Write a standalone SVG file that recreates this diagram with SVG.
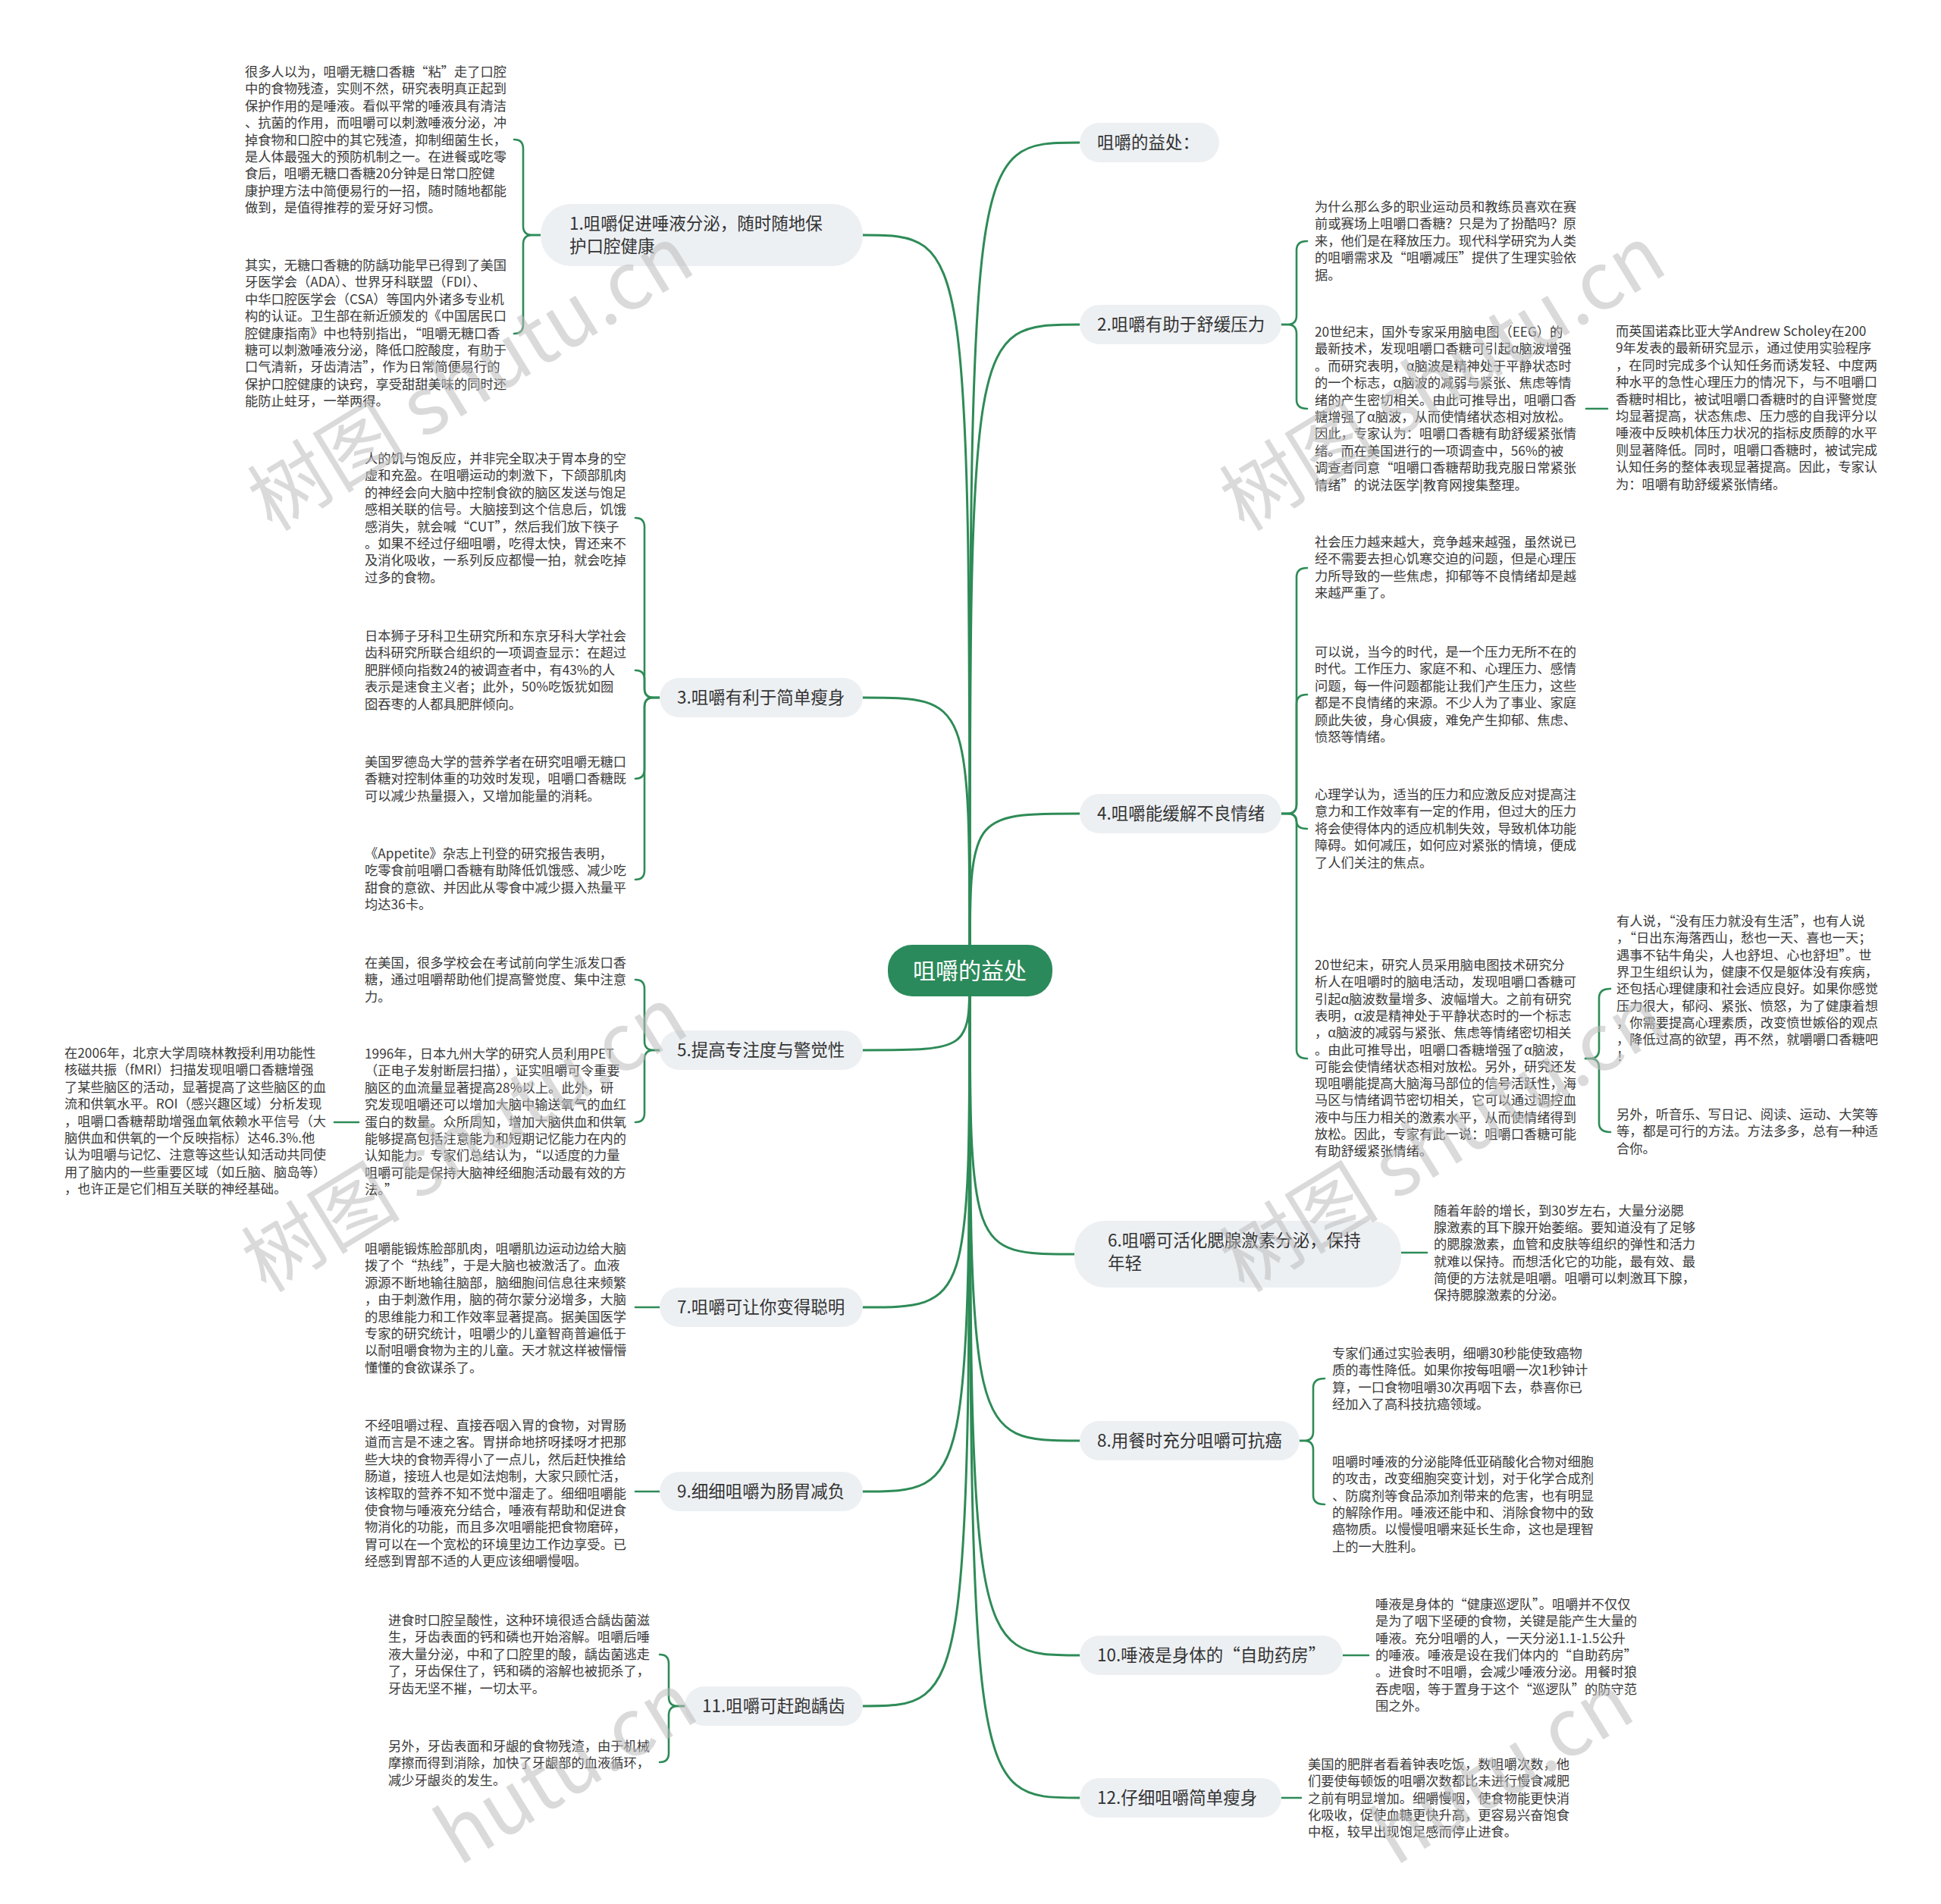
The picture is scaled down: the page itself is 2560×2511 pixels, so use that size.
<svg xmlns="http://www.w3.org/2000/svg" width="2560" height="2511" viewBox="0 0 2560 2511">
<style>
.bg{fill:#ffffff}
.ln{fill:none;stroke:#2e8b57;stroke-width:3;stroke-linecap:round}
.br{fill:none;stroke:#2e8b57;stroke-width:2.6;stroke-linecap:round;stroke-linejoin:round}
.pill{fill:#edf0f3}
.nt{font-family:"Noto Sans CJK SC","Noto Sans",sans-serif;font-size:22.5px;fill:#333333}
.ct{font-family:"Noto Sans CJK SC","Noto Sans",sans-serif;font-size:30px;fill:#ffffff;text-anchor:middle}
.b{font-family:"Noto Sans CJK SC","Noto Sans",sans-serif;font-size:17.25px;fill:#3a3a3a}
.wm{font-family:"Noto Sans CJK SC","Noto Sans",sans-serif;font-size:105px;fill:#bdbdbd;opacity:0.55}
</style>
<rect class="bg" x="0" y="0" width="2560" height="2511"/>

<g id="connectors">
  <path class="ln" d="M1279 1280 C1279 188 1279 188 1424 188"/>
  <path class="ln" d="M1279 1280 C1279 428 1279 428 1424 428"/>
  <path class="ln" d="M1279 1280 C1279 1073 1279 1073 1424 1073"/>
  <path class="ln" d="M1279 1280 C1279 1654 1279 1654 1417 1654"/>
  <path class="ln" d="M1279 1280 C1279 1900 1279 1900 1424 1900"/>
  <path class="ln" d="M1279 1280 C1279 2183 1279 2183 1424 2183"/>
  <path class="ln" d="M1279 1280 C1279 2371 1279 2371 1424 2371"/>
  <path class="ln" d="M1279 1280 C1279 310 1279 310 1138 310"/>
  <path class="ln" d="M1279 1280 C1279 920 1279 920 1138 920"/>
  <path class="ln" d="M1279 1280 C1279 1385 1279 1385 1138 1385"/>
  <path class="ln" d="M1279 1280 C1279 1724 1279 1724 1138 1724"/>
  <path class="ln" d="M1279 1280 C1279 1967 1279 1967 1138 1967"/>
  <path class="ln" d="M1279 1280 C1279 2250 1279 2250 1138 2250"/>

  <path class="br" d="M713 310 H702 Q690 310 690 298 V196 Q690 184 678 184"/>
  <path class="br" d="M713 310 H702 Q690 310 690 322 V428 Q690 440 678 440"/>
  <path class="br" d="M1690 428 H1698 Q1710 428 1710 416 V330 Q1710 318 1724 318"/>
  <path class="br" d="M1690 428 H1698 Q1710 428 1710 440 V527 Q1710 539 1724 539"/>
  <path class="br" d="M2092 539 H2120"/>
  <path class="br" d="M870 920 H862 Q850 920 850 908 V695 Q850 683 838 683"/>
  <path class="br" d="M870 920 H862 Q850 920 850 908 V896 Q850 884 838 884"/>
  <path class="br" d="M870 920 H862 Q850 920 850 932 V1015 Q850 1027 838 1027"/>
  <path class="br" d="M870 920 H862 Q850 920 850 932 V1148 Q850 1160 838 1160"/>
  <path class="br" d="M1690 1073 H1698 Q1710 1073 1710 1061 V761 Q1710 749 1724 749"/>
  <path class="br" d="M1690 1073 H1698 Q1710 1073 1710 1061 V928 Q1710 916 1724 916"/>
  <path class="br" d="M1690 1073 H1698 Q1710 1073 1710 1083 Q1710 1093 1724 1093"/>
  <path class="br" d="M1690 1073 H1698 Q1710 1073 1710 1085 V1384 Q1710 1396 1724 1396"/>
  <path class="br" d="M2091 1396 H2097 Q2109 1396 2109 1384 V1316 Q2109 1304 2124 1304"/>
  <path class="br" d="M2091 1396 H2097 Q2109 1396 2109 1408 V1481 Q2109 1493 2124 1493"/>
  <path class="br" d="M870 1385 H862 Q850 1385 850 1373 V1304 Q850 1292 838 1292"/>
  <path class="br" d="M870 1385 H862 Q850 1385 850 1397 V1468 Q850 1480 838 1480"/>
  <path class="br" d="M473 1480 H441"/>
  <path class="br" d="M1848 1652 H1882"/>
  <path class="br" d="M870 1724 H838"/>
  <path class="br" d="M870 1967 H838"/>
  <path class="br" d="M1771 2183 H1805"/>
  <path class="br" d="M1690 2371 H1716"/>
  <path class="br" d="M1714 1900 H1720 Q1732 1900 1732 1888 V1830 Q1732 1818 1747 1818"/>
  <path class="br" d="M1714 1900 H1720 Q1732 1900 1732 1912 V1972 Q1732 1984 1747 1984"/>
  <path class="br" d="M903 2250 H894 Q882 2250 882 2238 V2194 Q882 2182 870 2182"/>
  <path class="br" d="M903 2250 H894 Q882 2250 882 2262 V2312 Q882 2324 870 2324"/>
</g>

<g id="center">
  <rect x="1171" y="1246" width="217" height="68" rx="32" fill="#2b8a5b"/>
  <text class="ct" x="1279" y="1291">咀嚼的益处</text>
</g>

<g id="n0"><rect class="pill" x="1424" y="162" width="184" height="52" rx="26"/><text class="nt" x="1447" y="196">咀嚼的益处：</text></g>
<g id="n2"><rect class="pill" x="1424" y="402" width="266" height="52" rx="26"/><text class="nt" x="1447" y="436">2.咀嚼有助于舒缓压力</text></g>
<g id="n4"><rect class="pill" x="1424" y="1047" width="266" height="52" rx="26"/><text class="nt" x="1447" y="1081">4.咀嚼能缓解不良情绪</text></g>
<g id="n6"><rect class="pill" x="1417" y="1610" width="431" height="88" rx="40"/><text class="nt" x="1461" y="1644">6.咀嚼可活化腮腺激素分泌，保持</text><text class="nt" x="1461" y="1674">年轻</text></g>
<g id="n8"><rect class="pill" x="1424" y="1874" width="290" height="52" rx="26"/><text class="nt" x="1447" y="1908">8.用餐时充分咀嚼可抗癌</text></g>
<g id="n10"><rect class="pill" x="1424" y="2157" width="347" height="52" rx="26"/><text class="nt" x="1447" y="2191">10.唾液是身体的“自助药房”</text></g>
<g id="n12"><rect class="pill" x="1424" y="2345" width="266" height="52" rx="26"/><text class="nt" x="1447" y="2379">12.仔细咀嚼简单瘦身</text></g>
<g id="n1"><rect class="pill" x="713" y="269" width="425" height="82" rx="40"/><text class="nt" x="751" y="303">1.咀嚼促进唾液分泌，随时随地保</text><text class="nt" x="751" y="333">护口腔健康</text></g>
<g id="n3"><rect class="pill" x="870" y="894" width="268" height="52" rx="26"/><text class="nt" x="893" y="928">3.咀嚼有利于简单瘦身</text></g>
<g id="n5"><rect class="pill" x="870" y="1359" width="268" height="52" rx="26"/><text class="nt" x="893" y="1393">5.提高专注度与警觉性</text></g>
<g id="n7"><rect class="pill" x="870" y="1698" width="268" height="52" rx="26"/><text class="nt" x="893" y="1732">7.咀嚼可让你变得聪明</text></g>
<g id="n9"><rect class="pill" x="870" y="1941" width="268" height="52" rx="26"/><text class="nt" x="893" y="1975">9.细细咀嚼为肠胃减负</text></g>
<g id="n11"><rect class="pill" x="903" y="2224" width="235" height="52" rx="26"/><text class="nt" x="926" y="2258">11.咀嚼可赶跑龋齿</text></g>

<g id="t1a"><text class="b" x="323" y="101"><tspan x="323">很多人以为，咀嚼无糖口香糖“粘”走了口腔</tspan><tspan x="323" dy="22.4">中的食物残渣，实则不然，研究表明真正起到</tspan><tspan x="323" dy="22.4">保护作用的是唾液。看似平常的唾液具有清洁</tspan><tspan x="323" dy="22.4">、抗菌的作用，而咀嚼可以刺激唾液分泌，冲</tspan><tspan x="323" dy="22.4">掉食物和口腔中的其它残渣，抑制细菌生长，</tspan><tspan x="323" dy="22.4">是人体最强大的预防机制之一。在进餐或吃零</tspan><tspan x="323" dy="22.4">食后，咀嚼无糖口香糖20分钟是日常口腔健</tspan><tspan x="323" dy="22.4">康护理方法中简便易行的一招，随时随地都能</tspan><tspan x="323" dy="22.4">做到，是值得推荐的爱牙好习惯。</tspan></text></g>
<g id="t1b"><text class="b" x="323" y="356"><tspan x="323">其实，无糖口香糖的防龋功能早已得到了美国</tspan><tspan x="323" dy="22.4">牙医学会（ADA）、世界牙科联盟（FDI）、</tspan><tspan x="323" dy="22.4">中华口腔医学会（CSA）等国内外诸多专业机</tspan><tspan x="323" dy="22.4">构的认证。卫生部在新近颁发的《中国居民口</tspan><tspan x="323" dy="22.4">腔健康指南》中也特别指出，“咀嚼无糖口香</tspan><tspan x="323" dy="22.4">糖可以刺激唾液分泌，降低口腔酸度，有助于</tspan><tspan x="323" dy="22.4">口气清新，牙齿清洁”，作为日常简便易行的</tspan><tspan x="323" dy="22.4">保护口腔健康的诀窍，享受甜甜美味的同时还</tspan><tspan x="323" dy="22.4">能防止蛀牙，一举两得。</tspan></text></g>

<g id="t3a"><text class="b" x="481" y="611"><tspan x="481">人的饥与饱反应，并非完全取决于胃本身的空</tspan><tspan x="481" dy="22.4">虚和充盈。在咀嚼运动的刺激下，下颌部肌肉</tspan><tspan x="481" dy="22.4">的神经会向大脑中控制食欲的脑区发送与饱足</tspan><tspan x="481" dy="22.4">感相关联的信号。大脑接到这个信息后，饥饿</tspan><tspan x="481" dy="22.4">感消失，就会喊“CUT”，然后我们放下筷子</tspan><tspan x="481" dy="22.4">。如果不经过仔细咀嚼，吃得太快，胃还来不</tspan><tspan x="481" dy="22.4">及消化吸收，一系列反应都慢一拍，就会吃掉</tspan><tspan x="481" dy="22.4">过多的食物。</tspan></text></g>
<g id="t3b"><text class="b" x="481" y="845"><tspan x="481">日本狮子牙科卫生研究所和东京牙科大学社会</tspan><tspan x="481" dy="22.4">齿科研究所联合组织的一项调查显示：在超过</tspan><tspan x="481" dy="22.4">肥胖倾向指数24的被调查者中，有43%的人</tspan><tspan x="481" dy="22.4">表示是速食主义者；此外，50%吃饭犹如囫</tspan><tspan x="481" dy="22.4">囵吞枣的人都具肥胖倾向。</tspan></text></g>
<g id="t3c"><text class="b" x="481" y="1011"><tspan x="481">美国罗德岛大学的营养学者在研究咀嚼无糖口</tspan><tspan x="481" dy="22.4">香糖对控制体重的功效时发现，咀嚼口香糖既</tspan><tspan x="481" dy="22.4">可以减少热量摄入，又增加能量的消耗。</tspan></text></g>
<g id="t3d"><text class="b" x="481" y="1132"><tspan x="481">《Appetite》杂志上刊登的研究报告表明，</tspan><tspan x="481" dy="22.4">吃零食前咀嚼口香糖有助降低饥饿感、减少吃</tspan><tspan x="481" dy="22.4">甜食的意欲、并因此从零食中减少摄入热量平</tspan><tspan x="481" dy="22.4">均达36卡。</tspan></text></g>

<g id="t5a"><text class="b" x="481" y="1276"><tspan x="481">在美国，很多学校会在考试前向学生派发口香</tspan><tspan x="481" dy="22.4">糖，通过咀嚼帮助他们提高警觉度、集中注意</tspan><tspan x="481" dy="22.4">力。</tspan></text></g>
<g id="t5b"><text class="b" x="481" y="1396"><tspan x="481">1996年，日本九州大学的研究人员利用PET</tspan><tspan x="481" dy="22.4">（正电子发射断层扫描），证实咀嚼可令重要</tspan><tspan x="481" dy="22.4">脑区的血流量显著提高28%以上。此外，研</tspan><tspan x="481" dy="22.4">究发现咀嚼还可以增加大脑中输送氧气的血红</tspan><tspan x="481" dy="22.4">蛋白的数量。众所周知，增加大脑供血和供氧</tspan><tspan x="481" dy="22.4">能够提高包括注意能力和短期记忆能力在内的</tspan><tspan x="481" dy="22.4">认知能力。专家们总结认为，“以适度的力量</tspan><tspan x="481" dy="22.4">咀嚼可能是保持大脑神经细胞活动最有效的方</tspan><tspan x="481" dy="22.4">法。”</tspan></text></g>
<g id="t5c"><text class="b" x="85" y="1395"><tspan x="85">在2006年，北京大学周晓林教授利用功能性</tspan><tspan x="85" dy="22.4">核磁共振（fMRI）扫描发现咀嚼口香糖增强</tspan><tspan x="85" dy="22.4">了某些脑区的活动，显著提高了这些脑区的血</tspan><tspan x="85" dy="22.4">流和供氧水平。ROI（感兴趣区域）分析发现</tspan><tspan x="85" dy="22.4">，咀嚼口香糖帮助增强血氧依赖水平信号（大</tspan><tspan x="85" dy="22.4">脑供血和供氧的一个反映指标）达46.3%.他</tspan><tspan x="85" dy="22.4">认为咀嚼与记忆、注意等这些认知活动共同使</tspan><tspan x="85" dy="22.4">用了脑内的一些重要区域（如丘脑、脑岛等）</tspan><tspan x="85" dy="22.4">，也许正是它们相互关联的神经基础。</tspan></text></g>

<g id="t7"><text class="b" x="481" y="1653"><tspan x="481">咀嚼能锻炼脸部肌肉，咀嚼肌边运动边给大脑</tspan><tspan x="481" dy="22.4">拨了个“热线”，于是大脑也被激活了。血液</tspan><tspan x="481" dy="22.4">源源不断地输往脑部，脑细胞间信息往来频繁</tspan><tspan x="481" dy="22.4">，由于刺激作用，脑的荷尔蒙分泌增多，大脑</tspan><tspan x="481" dy="22.4">的思维能力和工作效率显著提高。据美国医学</tspan><tspan x="481" dy="22.4">专家的研究统计，咀嚼少的儿童智商普遍低于</tspan><tspan x="481" dy="22.4">以耐咀嚼食物为主的儿童。天才就这样被懵懵</tspan><tspan x="481" dy="22.4">懂懂的食欲谋杀了。</tspan></text></g>
<g id="t9"><text class="b" x="481" y="1886"><tspan x="481">不经咀嚼过程、直接吞咽入胃的食物，对胃肠</tspan><tspan x="481" dy="22.4">道而言是不速之客。胃拼命地挤呀揉呀才把那</tspan><tspan x="481" dy="22.4">些大块的食物弄得小了一点儿，然后赶快推给</tspan><tspan x="481" dy="22.4">肠道，接班人也是如法炮制，大家只顾忙活，</tspan><tspan x="481" dy="22.4">该榨取的营养不知不觉中溜走了。细细咀嚼能</tspan><tspan x="481" dy="22.4">使食物与唾液充分结合，唾液有帮助和促进食</tspan><tspan x="481" dy="22.4">物消化的功能，而且多次咀嚼能把食物磨碎，</tspan><tspan x="481" dy="22.4">胃可以在一个宽松的环境里边工作边享受。已</tspan><tspan x="481" dy="22.4">经感到胃部不适的人更应该细嚼慢咽。</tspan></text></g>
<g id="t11a"><text class="b" x="512" y="2143"><tspan x="512">进食时口腔呈酸性，这种环境很适合龋齿菌滋</tspan><tspan x="512" dy="22.4">生，牙齿表面的钙和磷也开始溶解。咀嚼后唾</tspan><tspan x="512" dy="22.4">液大量分泌，中和了口腔里的酸，龋齿菌逃走</tspan><tspan x="512" dy="22.4">了，牙齿保住了，钙和磷的溶解也被扼杀了，</tspan><tspan x="512" dy="22.4">牙齿无坚不摧，一切太平。</tspan></text></g>
<g id="t11b"><text class="b" x="512" y="2309"><tspan x="512">另外，牙齿表面和牙龈的食物残渣，由于机械</tspan><tspan x="512" dy="22.4">摩擦而得到消除，加快了牙龈部的血液循环，</tspan><tspan x="512" dy="22.4">减少牙龈炎的发生。</tspan></text></g>

<g id="t2a"><text class="b" x="1734" y="279"><tspan x="1734">为什么那么多的职业运动员和教练员喜欢在赛</tspan><tspan x="1734" dy="22.4">前或赛场上咀嚼口香糖？只是为了扮酷吗？原</tspan><tspan x="1734" dy="22.4">来，他们是在释放压力。现代科学研究为人类</tspan><tspan x="1734" dy="22.4">的咀嚼需求及“咀嚼减压”提供了生理实验依</tspan><tspan x="1734" dy="22.4">据。</tspan></text></g>
<g id="t2b"><text class="b" x="1734" y="444"><tspan x="1734">20世纪末，国外专家采用脑电图（EEG）的</tspan><tspan x="1734" dy="22.4">最新技术，发现咀嚼口香糖可引起α脑波增强</tspan><tspan x="1734" dy="22.4">。而研究表明，α脑波是精神处于平静状态时</tspan><tspan x="1734" dy="22.4">的一个标志，α脑波的减弱与紧张、焦虑等情</tspan><tspan x="1734" dy="22.4">绪的产生密切相关。由此可推导出，咀嚼口香</tspan><tspan x="1734" dy="22.4">糖增强了α脑波，从而使情绪状态相对放松。</tspan><tspan x="1734" dy="22.4">因此，专家认为：咀嚼口香糖有助舒缓紧张情</tspan><tspan x="1734" dy="22.4">绪。而在美国进行的一项调查中，56%的被</tspan><tspan x="1734" dy="22.4">调查者同意“咀嚼口香糖帮助我克服日常紧张</tspan><tspan x="1734" dy="22.4">情绪”的说法医学|教育网搜集整理。</tspan></text></g>
<g id="t2c"><text class="b" x="2131" y="443"><tspan x="2131">而英国诺森比亚大学Andrew Scholey在200</tspan><tspan x="2131" dy="22.4">9年发表的最新研究显示，通过使用实验程序</tspan><tspan x="2131" dy="22.4">，在同时完成多个认知任务而诱发轻、中度两</tspan><tspan x="2131" dy="22.4">种水平的急性心理压力的情况下，与不咀嚼口</tspan><tspan x="2131" dy="22.4">香糖时相比，被试咀嚼口香糖时的自评警觉度</tspan><tspan x="2131" dy="22.4">均显著提高，状态焦虑、压力感的自我评分以</tspan><tspan x="2131" dy="22.4">唾液中反映机体压力状况的指标皮质醇的水平</tspan><tspan x="2131" dy="22.4">则显著降低。同时，咀嚼口香糖时，被试完成</tspan><tspan x="2131" dy="22.4">认知任务的整体表现显著提高。因此，专家认</tspan><tspan x="2131" dy="22.4">为：咀嚼有助舒缓紧张情绪。</tspan></text></g>

<g id="t4a"><text class="b" x="1734" y="721"><tspan x="1734">社会压力越来越大，竞争越来越强，虽然说已</tspan><tspan x="1734" dy="22.4">经不需要去担心饥寒交迫的问题，但是心理压</tspan><tspan x="1734" dy="22.4">力所导致的一些焦虑，抑郁等不良情绪却是越</tspan><tspan x="1734" dy="22.4">来越严重了。</tspan></text></g>
<g id="t4b"><text class="b" x="1734" y="866"><tspan x="1734">可以说，当今的时代，是一个压力无所不在的</tspan><tspan x="1734" dy="22.4">时代。工作压力、家庭不和、心理压力、感情</tspan><tspan x="1734" dy="22.4">问题，每一件问题都能让我们产生压力，这些</tspan><tspan x="1734" dy="22.4">都是不良情绪的来源。不少人为了事业、家庭</tspan><tspan x="1734" dy="22.4">顾此失彼，身心俱疲，难免产生抑郁、焦虑、</tspan><tspan x="1734" dy="22.4">愤怒等情绪。</tspan></text></g>
<g id="t4c"><text class="b" x="1734" y="1054"><tspan x="1734">心理学认为，适当的压力和应激反应对提高注</tspan><tspan x="1734" dy="22.4">意力和工作效率有一定的作用，但过大的压力</tspan><tspan x="1734" dy="22.4">将会使得体内的适应机制失效，导致机体功能</tspan><tspan x="1734" dy="22.4">障碍。如何减压，如何应对紧张的情境，便成</tspan><tspan x="1734" dy="22.4">了人们关注的焦点。</tspan></text></g>
<g id="t4d"><text class="b" x="1734" y="1279"><tspan x="1734">20世纪末，研究人员采用脑电图技术研究分</tspan><tspan x="1734" dy="22.3">析人在咀嚼时的脑电活动，发现咀嚼口香糖可</tspan><tspan x="1734" dy="22.3">引起α脑波数量增多、波幅增大。之前有研究</tspan><tspan x="1734" dy="22.3">表明，α波是精神处于平静状态时的一个标志</tspan><tspan x="1734" dy="22.3">，α脑波的减弱与紧张、焦虑等情绪密切相关</tspan><tspan x="1734" dy="22.3">。由此可推导出，咀嚼口香糖增强了α脑波，</tspan><tspan x="1734" dy="22.3">可能会使情绪状态相对放松。另外，研究还发</tspan><tspan x="1734" dy="22.3">现咀嚼能提高大脑海马部位的信号活跃性，海</tspan><tspan x="1734" dy="22.3">马区与情绪调节密切相关，它可以通过调控血</tspan><tspan x="1734" dy="22.3">液中与压力相关的激素水平，从而使情绪得到</tspan><tspan x="1734" dy="22.3">放松。因此，专家有此一说：咀嚼口香糖可能</tspan><tspan x="1734" dy="22.3">有助舒缓紧张情绪。</tspan></text></g>
<g id="t4e"><text class="b" x="2132" y="1221"><tspan x="2132">有人说，“没有压力就没有生活”，也有人说</tspan><tspan x="2132" dy="22.3">，“日出东海落西山，愁也一天、喜也一天；</tspan><tspan x="2132" dy="22.3">遇事不钻牛角尖，人也舒坦、心也舒坦”。世</tspan><tspan x="2132" dy="22.3">界卫生组织认为，健康不仅是躯体没有疾病，</tspan><tspan x="2132" dy="22.3">还包括心理健康和社会适应良好。如果你感觉</tspan><tspan x="2132" dy="22.3">压力很大，郁闷、紧张、愤怒，为了健康着想</tspan><tspan x="2132" dy="22.3">，你需要提高心理素质，改变愤世嫉俗的观点</tspan><tspan x="2132" dy="22.3">，降低过高的欲望，再不然，就嚼嚼口香糖吧</tspan><tspan x="2132" dy="22.3">！</tspan></text></g>
<g id="t4f"><text class="b" x="2132" y="1476"><tspan x="2132">另外，听音乐、写日记、阅读、运动、大笑等</tspan><tspan x="2132" dy="22.3">等，都是可行的方法。方法多多，总有一种适</tspan><tspan x="2132" dy="22.3">合你。</tspan></text></g>

<g id="t6"><text class="b" x="1891" y="1603"><tspan x="1891">随着年龄的增长，到30岁左右，大量分泌腮</tspan><tspan x="1891" dy="22.2">腺激素的耳下腺开始萎缩。要知道没有了足够</tspan><tspan x="1891" dy="22.2">的腮腺激素，血管和皮肤等组织的弹性和活力</tspan><tspan x="1891" dy="22.2">就难以保持。而想活化它的功能，最有效、最</tspan><tspan x="1891" dy="22.2">简便的方法就是咀嚼。咀嚼可以刺激耳下腺，</tspan><tspan x="1891" dy="22.2">保持腮腺激素的分泌。</tspan></text></g>
<g id="t8a"><text class="b" x="1757" y="1791"><tspan x="1757">专家们通过实验表明，细嚼30秒能使致癌物</tspan><tspan x="1757" dy="22.3">质的毒性降低。如果你按每咀嚼一次1秒钟计</tspan><tspan x="1757" dy="22.3">算，一口食物咀嚼30次再咽下去，恭喜你已</tspan><tspan x="1757" dy="22.3">经加入了高科技抗癌领域。</tspan></text></g>
<g id="t8b"><text class="b" x="1757" y="1934"><tspan x="1757">咀嚼时唾液的分泌能降低亚硝酸化合物对细胞</tspan><tspan x="1757" dy="22.3">的攻击，改变细胞突变计划，对于化学合成剂</tspan><tspan x="1757" dy="22.3">、防腐剂等食品添加剂带来的危害，也有明显</tspan><tspan x="1757" dy="22.3">的解除作用。唾液还能中和、消除食物中的致</tspan><tspan x="1757" dy="22.3">癌物质。以慢慢咀嚼来延长生命，这也是理智</tspan><tspan x="1757" dy="22.3">上的一大胜利。</tspan></text></g>
<g id="t10"><text class="b" x="1814" y="2122"><tspan x="1814">唾液是身体的“健康巡逻队”。咀嚼并不仅仅</tspan><tspan x="1814" dy="22.3">是为了咽下坚硬的食物，关键是能产生大量的</tspan><tspan x="1814" dy="22.3">唾液。充分咀嚼的人，一天分泌1.1-1.5公升</tspan><tspan x="1814" dy="22.3">的唾液。唾液是设在我们体内的“自助药房”</tspan><tspan x="1814" dy="22.3">。进食时不咀嚼，会减少唾液分泌。用餐时狼</tspan><tspan x="1814" dy="22.3">吞虎咽，等于置身于这个“巡逻队”的防守范</tspan><tspan x="1814" dy="22.3">围之外。</tspan></text></g>
<g id="t12"><text class="b" x="1725" y="2333"><tspan x="1725">美国的肥胖者看着钟表吃饭，数咀嚼次数，他</tspan><tspan x="1725" dy="22.3">们要使每顿饭的咀嚼次数都比未进行慢食减肥</tspan><tspan x="1725" dy="22.3">之前有明显增加。细嚼慢咽，使食物能更快消</tspan><tspan x="1725" dy="22.3">化吸收，促使血糖更快升高，更容易兴奋饱食</tspan><tspan x="1725" dy="22.3">中枢，较早出现饱足感而停止进食。</tspan></text></g>

<g id="watermarks">
  <text class="wm" x="359" y="702" transform="rotate(-31.5 359 702)">树图 shutu.cn</text>
  <text class="wm" x="1641" y="702" transform="rotate(-31.5 1641 702)">树图 shutu.cn</text>
  <text class="wm" x="351" y="1706" transform="rotate(-31.5 351 1706)">树图 shutu.cn</text>
  <text class="wm" x="1641" y="1706" transform="rotate(-31.5 1641 1706)">树图 shutu.cn</text>
  <text class="wm" x="605" y="2462" transform="rotate(-31.5 605 2462)">hutu.cn</text>
  <text class="wm" x="1840" y="2462" transform="rotate(-31.5 1840 2462)">hutu.cn</text>
</g>
</svg>
